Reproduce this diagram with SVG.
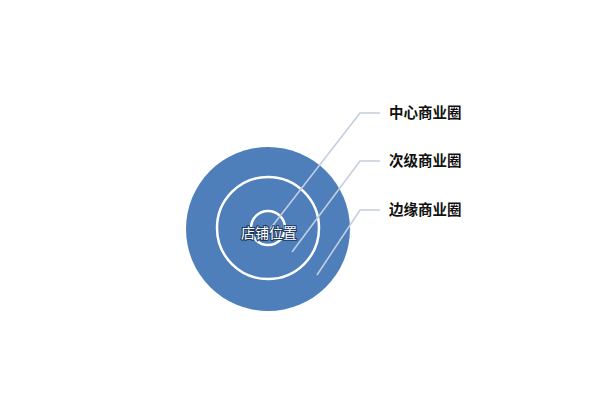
<svg xmlns="http://www.w3.org/2000/svg" width="600" height="405" viewBox="0 0 600 405">
<style>
.ring{fill:none;stroke:#ffffff;stroke-width:2.5}
.lead{fill:none;stroke:#c3cede;stroke-width:1.6}
.lbl{font-family:"Noto Sans CJK SC","Noto Sans",sans-serif;font-size:14.5px;font-weight:bold;fill:#111}
.ctr{font-family:"Noto Sans CJK SC","Noto Sans",sans-serif;font-size:14px;fill:#fff;stroke:#1f3a60;stroke-width:2;paint-order:stroke;text-anchor:middle}
</style>
<rect width="600" height="405" fill="#fff"/>
<g id="outer"><circle cx="268" cy="229" r="82" fill="#4e7fbb"/></g>
<g id="middle"><circle class="ring" cx="268" cy="228" r="51"/></g>
<g id="inner"><circle class="ring" cx="268" cy="228" r="17"/></g>
<g id="connectors">
<polyline class="lead" points="270,229 360,113 380,113"/>
<polyline class="lead" points="292,252 360,161 380,161"/>
<polyline class="lead" points="317,275 360,210 380,210"/>
</g>
<g id="center-label"><text class="ctr" x="269" y="238">店铺位置</text></g>
<g id="label1"><text class="lbl" x="389" y="118">中心商业圈</text></g>
<g id="label2"><text class="lbl" x="389" y="166">次级商业圈</text></g>
<g id="label3"><text class="lbl" x="389" y="215">边缘商业圈</text></g>
</svg>
